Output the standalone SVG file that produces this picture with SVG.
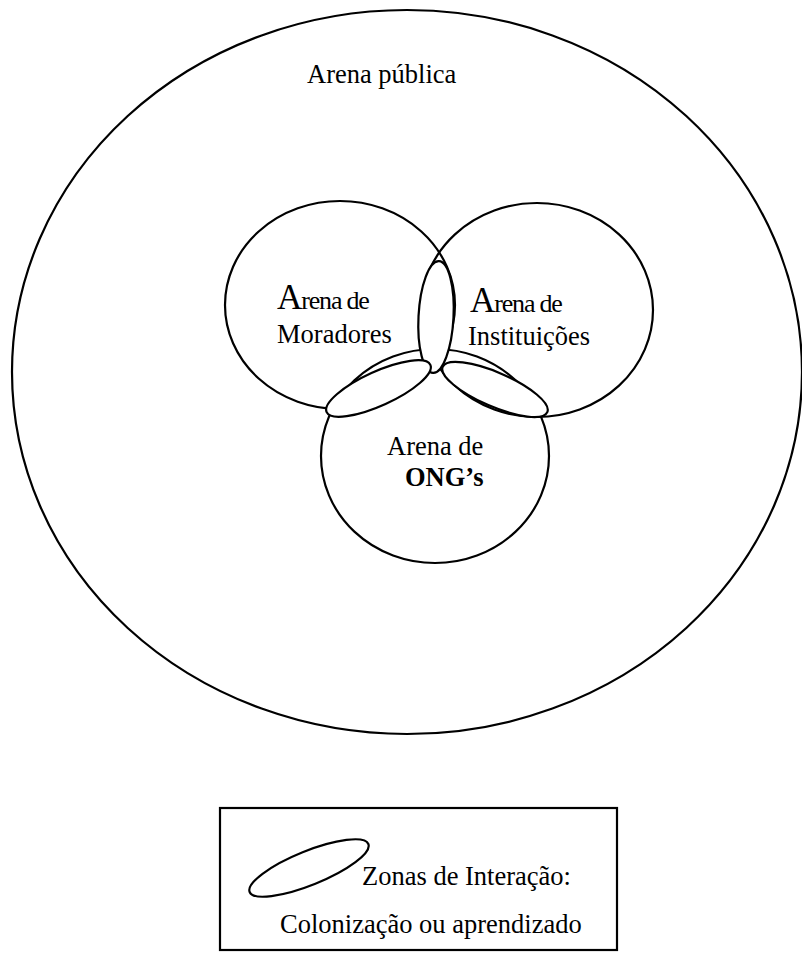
<svg xmlns="http://www.w3.org/2000/svg" width="802" height="962" viewBox="0 0 802 962">
<style>
.line{fill:none;stroke:#000;stroke-width:2.2}
.zone{fill:#fff;stroke:#000;stroke-width:2.2}
.t{font-family:"Liberation Serif","Times New Roman",serif;fill:#000;font-size:26.5px}
.b{font-weight:bold}
.big{font-size:35px;letter-spacing:-1px}
.sm{font-size:26px;letter-spacing:-1.2px}
</style>
<rect width="802" height="962" fill="#fff"/>
<g id="arena-publica">
<ellipse class="line" cx="407" cy="372" rx="395" ry="362"/>
<text class="t" x="307" y="83">Arena pública</text>
</g>
<g id="arena-moradores">
<ellipse class="line" cx="340" cy="305" rx="115" ry="104"/>
</g>
<g id="arena-instituicoes">
<ellipse class="line" cx="537" cy="310" rx="116" ry="107"/>
</g>
<g id="arena-ongs">
<ellipse class="line" cx="435" cy="456" rx="114" ry="107"/>
</g>
<g id="zonas">
<ellipse class="zone" cx="436" cy="317" rx="17.5" ry="56" transform="rotate(3 436 317)"/>
<ellipse class="zone" cx="378.5" cy="388.5" rx="57" ry="17" transform="rotate(-24.5 378.5 388.5)"/>
<ellipse class="zone" cx="495" cy="389.5" rx="57" ry="17" transform="rotate(23.4 495 389.5)"/>
</g>
<g id="labels">
<text class="t" x="277" y="309"><tspan class="big">A</tspan><tspan class="sm">rena de</tspan></text>
<text class="t" x="277" y="343">Moradores</text>
<text class="t" x="470" y="312"><tspan class="big">A</tspan><tspan class="sm">rena de</tspan></text>
<text class="t" x="468" y="345">Instituições</text>
<text class="t" x="387" y="455">Arena de</text>
<text class="t b" x="405" y="486">ONG’s</text>
</g>
<g id="legenda">
<rect class="line" x="220" y="808" width="397" height="142"/>
<ellipse class="line" cx="309" cy="868" rx="64" ry="17" transform="rotate(-22 309 868)"/>
<text class="t" x="362" y="885">Zonas de Interação:</text>
<text class="t" x="280" y="933">Colonização ou aprendizado</text>
</g>
</svg>
